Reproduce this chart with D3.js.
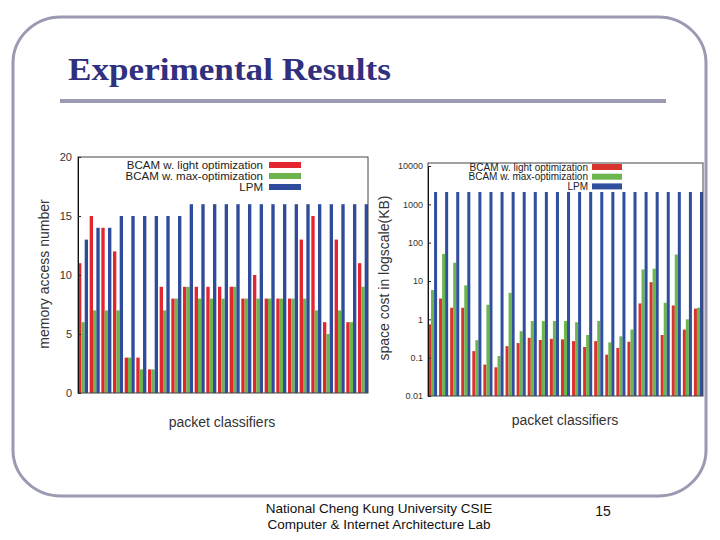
<!DOCTYPE html>
<html>
<head>
<meta charset="utf-8">
<script src="https://cdn.jsdelivr.net/npm/d3@7"></script>
<style>
  html, body { margin: 0; padding: 0; background: #fff; }
  svg { display: block; }
</style>
</head>
<body>
<svg id="slide" width="720" height="540"></svg>
<script>
// ---------- data ----------
const classifiers = ["1","2","3","4","5","6","7","8","9","10","11","12","13","14","15","16","17","18","19","20","21","22","23","24","25"];
const seriesNames = ["BCAM w. light optimization", "BCAM w. max-optimization", "LPM"];

// left chart: memory access number
const memLight = [11,15,14,12,3,3,2,9,8,9,9,9,9,9,8,10,8,8,8,13,15,6,13,6,11];
const memMax   = [6,7,7,7,3,2,2,7,8,9,8,8,8,9,8,8,8,8,8,8,7,5,7,6,9];
const memLPM   = [13,14,14,15,15,15,15,15,15,16,16,16,16,16,16,16,16,16,16,16,16,16,16,16,16];
const memTicks = [0,5,10,15,20];

// right chart: space cost (KB), log scale
const spaceLight = [0.74,3.5,2.0,2.0,0.148,0.066,0.056,0.2,0.24,0.33,0.29,0.31,0.30,0.27,0.19,0.27,0.12,0.18,0.26,2.6,9.3,0.39,2.3,0.54,1.9];
const spaceMax   = [5.8,51,30,7.7,0.286,2.4,0.11,4.9,0.49,0.9,0.9,0.9,0.9,0.84,0.39,0.91,0.25,0.36,0.54,20,21,2.7,49,1.0,2.0];
const spaceLPM   = [2100,2100,2100,2100,2100,2100,2100,2100,2100,2100,2100,2100,2100,2100,2100,2100,2100,2100,2100,2100,2100,2100,2100,2100,2100];
const spaceTicks = [0.01,0.1,1,10,100,1000,10000];
const spaceTickLabels = ["0.01","0.1","1","10","100","1000","10000"];

const colors = ["#e3262d", "#6db44f", "#2f4c9c"];
const colorsRight = ["#d8332c", "#6cb650", "#30509f"];

// ---------- slide frame ----------
const svg = d3.select("#slide");
const border = "#9a9ab2";

svg.append("rect")
  .attr("x", 13).attr("y", 17).attr("width", 693).attr("height", 479)
  .attr("rx", 48).attr("ry", 46)
  .attr("fill", "none").attr("stroke", border).attr("stroke-width", 3);

svg.append("text")
  .attr("x", 68).attr("y", 80)
  .attr("font-family", "'Liberation Serif', 'DejaVu Serif', serif")
  .attr("font-weight", "bold").attr("font-size", 31)
  .attr("textLength", 323).attr("lengthAdjust", "spacingAndGlyphs")
  .attr("fill", "#30307f")
  .text("Experimental Results");

svg.append("rect")
  .attr("x", 60).attr("y", 99).attr("width", 606).attr("height", 4)
  .attr("fill", border);

svg.append("text")
  .attr("x", 379).attr("y", 513).attr("text-anchor", "middle")
  .attr("font-family", "'Liberation Sans', Arial, sans-serif").attr("font-size", 13.5)
  .attr("fill", "#111").text("National Cheng Kung University CSIE");
svg.append("text")
  .attr("x", 379).attr("y", 529).attr("text-anchor", "middle")
  .attr("font-family", "'Liberation Sans', Arial, sans-serif").attr("font-size", 13.5)
  .attr("fill", "#111").text("Computer & Internet Architecture Lab");
svg.append("text")
  .attr("x", 603).attr("y", 516).attr("text-anchor", "middle")
  .attr("font-family", "'Liberation Sans', Arial, sans-serif").attr("font-size", 14)
  .attr("fill", "#111").text("15");

// ---------- generic grouped bar chart ----------
function groupedChart(opts) {
  const g = svg.append("g");
  const x0 = d3.scaleBand().domain(classifiers)
    .range([opts.left, opts.right]).paddingInner(opts.pad).paddingOuter(0);
  const x1 = d3.scaleBand().domain(seriesNames).range([0, x0.bandwidth()]);
  const y = opts.y;
  const base = y.range()[0];

  const rows = classifiers.map((c, i) => ({
    c, vals: opts.series.map((s, k) => ({ name: seriesNames[k], v: s[i], k }))
  }));

  const groups = g.selectAll("g.grp").data(rows).join("g")
    .attr("transform", d => `translate(${x0(d.c)},0)`);
  groups.selectAll("rect").data(d => d.vals).join("rect")
    .attr("x", d => x1(d.name))
    .attr("width", x1.bandwidth())
    .attr("y", d => y(d.v))
    .attr("height", d => base - y(d.v))
    .attr("fill", d => opts.colors[d.k]);

  // frame
  g.append("rect")
    .attr("x", opts.left).attr("y", opts.frameTop)
    .attr("width", opts.right - opts.left).attr("height", base - opts.frameTop)
    .attr("fill", "none").attr("stroke", "#444").attr("stroke-width", 1);

  // y axis
  const axis = d3.axisLeft(y).tickValues(opts.ticks).tickSize(-opts.tickLen).tickPadding(opts.tickPad)
    .tickFormat((d, i) => opts.tickLabels ? opts.tickLabels[i] : d);
  const ag = g.append("g").attr("transform", `translate(${opts.left},0)`).call(axis);
  ag.select(".domain").attr("stroke", "#111");
  ag.selectAll(".tick line").attr("stroke", "#222");
  ag.selectAll("text")
    .attr("font-family", opts.font).attr("font-size", opts.tickFont).attr("fill", "#333");

  // y label
  g.append("text")
    .attr("transform", `translate(${opts.ylabX},${opts.ylabY}) rotate(-90)`)
    .attr("text-anchor", "middle")
    .attr("font-family", "'Liberation Sans', Arial, sans-serif").attr("font-size", opts.labFont)
    .attr("fill", "#333").text(opts.ylabel);

  // x label
  g.append("text")
    .attr("x", opts.xlabX).attr("y", opts.xlabY).attr("text-anchor", "middle")
    .attr("font-family", "'Liberation Sans', Arial, sans-serif").attr("font-size", opts.labFont)
    .attr("fill", "#333").text("packet classifiers");

  // legend
  seriesNames.forEach((n, k) => {
    const ly = opts.legY + k * opts.legStep;
    g.append("text")
      .attr("x", opts.legTextX).attr("y", ly).attr("dy", "0.35em")
      .attr("text-anchor", "end")
      .attr("font-family", "'Liberation Sans', Arial, sans-serif")
      .attr("font-size", opts.legFont).attr("fill", "#222").text(n);
    g.append("rect")
      .attr("x", opts.legSwX).attr("y", ly - opts.legSwH / 2)
      .attr("width", opts.legSwW).attr("height", opts.legSwH)
      .attr("fill", opts.colors[k]);
  });
}

// left chart
groupedChart({
  left: 78, right: 368, pad: 0.14,
  y: d3.scaleLinear().domain([0, 20]).range([393, 157]),
  frameTop: 157,
  series: [memLight, memMax, memLPM],
  colors: colors,
  ticks: memTicks, tickLen: 3, tickPad: 6, tickFont: 11,
  font: "'Liberation Sans', Arial, sans-serif",
  ylabel: "memory access number", ylabX: 49, ylabY: 274, labFont: 14,
  xlabX: 222, xlabY: 427,
  legY: 165, legStep: 11, legTextX: 263, legSwX: 269, legSwW: 32, legSwH: 6, legFont: 11.5
});

// right chart
groupedChart({
  left: 428, right: 703, pad: 0.18,
  y: d3.scaleLog().domain([0.01, 10000]).range([396, 166]),
  frameTop: 163,
  series: [spaceLight, spaceMax, spaceLPM],
  colors: colorsRight,
  ticks: spaceTicks, tickLabels: spaceTickLabels, tickLen: 3, tickPad: 5, tickFont: 9,
  font: "'Liberation Sans', Arial, sans-serif",
  ylabel: "space cost in logscale(KB)", ylabX: 389, ylabY: 278, labFont: 14,
  xlabX: 565, xlabY: 425,
  legY: 167, legStep: 9.7, legTextX: 588, legSwX: 592, legSwW: 30, legSwH: 6, legFont: 10
});
</script>
</body>
</html>
